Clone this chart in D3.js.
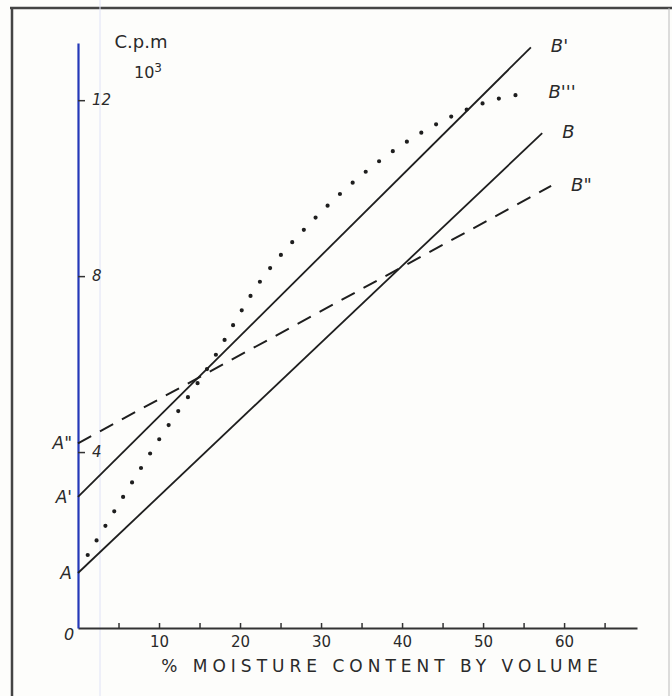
<!DOCTYPE html>
<html>
<head>
<meta charset="utf-8">
<script src="https://cdn.jsdelivr.net/npm/d3@7"></script>
<style>
  body { margin: 0; background: #fdfdfb; }
  svg { display: block; }
  text { font-family: "DejaVu Sans", sans-serif; fill: #2a2a2a; }
</style>
</head>
<body>
<div id="chart"></div>
<script>
// values (x = % moisture, y = c.p.m x 10^3)
var xTicks = [5, 10, 15, 20, 25, 30, 35, 40, 45, 50, 55, 60, 65];
var yTicks = [4, 8, 12];

var lineAB   = [[0, 1.25], [57.3, 11.25]];   // A  -> B
var lineA1B1 = [[0, 2.98], [55.9, 13.2]];    // A' -> B'
var lineA2B2 = [[0, 4.2], [58.4, 10.05]];    // A'' -> B''
var curveB3  = [[1.2, 1.66], [5.4, 2.93], [10.2, 4.34], [16.0, 5.91], [22.6, 7.91],
                [28.8, 9.23], [35.9, 10.43], [43.8, 11.41], [51.2, 12.0], [55.6, 12.16]];

var startLabels = ["A", "A'", "A\""];
var endLabels = ["B", "B'", "B\"", "B'''"];

var W = 672, H = 696;

var svg = d3.select("#chart")
    .append("svg")
    .attr("width", W)
    .attr("height", H);

// paper frame
svg.append("line").attr("x1", 10).attr("x2", W).attr("y1", 8).attr("y2", 8)
    .attr("stroke", "#444").attr("stroke-width", 2.5);
svg.append("line").attr("x1", 12).attr("x2", 12).attr("y1", 8).attr("y2", H)
    .attr("stroke", "#444").attr("stroke-width", 2.5);
svg.append("line").attr("x1", 669).attr("x2", 669).attr("y1", 8).attr("y2", H)
    .attr("stroke", "#bbb").attr("stroke-width", 1);
// faint margin line of the paper
svg.append("line").attr("x1", 100).attr("x2", 100).attr("y1", 0).attr("y2", H)
    .attr("stroke", "#dfe2f6").attr("stroke-width", 1);

var x = d3.scaleLinear().domain([0, 69]).range([78, 637]);
var y = d3.scaleLinear().domain([0, 13.3]).range([628, 43]);

// x axis, ticks pointing up
var gx = svg.append("g")
    .attr("transform", "translate(0," + y(0) + ")")
    .call(d3.axisBottom(x).tickValues(xTicks).tickSizeInner(-5).tickSizeOuter(0).tickPadding(8)
        .tickFormat(function(d) { return d % 10 === 0 ? d : ""; }));
gx.select(".domain").attr("stroke", "#333").attr("stroke-width", 2);
gx.selectAll(".tick line").attr("stroke", "#333").attr("stroke-width", 1.5);
gx.selectAll(".tick text").style("font-size", "15px").attr("fill", "#2a2a2a");

// y axis (blue)
var gy = svg.append("g")
    .attr("transform", "translate(" + x(0) + ",0)")
    .call(d3.axisRight(y).tickValues(yTicks).tickSizeInner(7).tickSizeOuter(0).tickPadding(7));
gy.select(".domain").attr("stroke", "#2438b8").attr("stroke-width", 2.2);
gy.selectAll(".tick line").attr("stroke", "#333").attr("stroke-width", 1.5);
gy.selectAll(".tick text").style("font-size", "15px").style("font-style", "italic").attr("fill", "#2a2a2a");

svg.append("text").attr("x", x(0) - 14).attr("y", y(0) + 12)
    .style("font-size", "16px").style("font-style", "italic").text("0");

// y axis title
svg.append("text").attr("x", 141).attr("y", 48).attr("text-anchor", "middle")
    .style("font-size", "18px").text("C.p.m");
var t10 = svg.append("text").attr("x", 148).attr("y", 78).attr("text-anchor", "middle")
    .style("font-size", "16px");
t10.append("tspan").text("10");
t10.append("tspan").attr("dy", -6).style("font-size", "12px").text("3");

// x axis title
svg.append("text").attr("x", 382).attr("y", 672).attr("text-anchor", "middle")
    .style("font-size", "17px").style("letter-spacing", "5px")
    .text("% MOISTURE CONTENT BY VOLUME");

var line = d3.line().x(function(d) { return x(d[0]); }).y(function(d) { return y(d[1]); });

svg.append("path").datum(lineAB).attr("d", line)
    .attr("fill", "none").attr("stroke", "#1e1e1e").attr("stroke-width", 1.8);
svg.append("path").datum(lineA1B1).attr("d", line)
    .attr("fill", "none").attr("stroke", "#1e1e1e").attr("stroke-width", 1.8);
svg.append("path").datum(lineA2B2).attr("d", line)
    .attr("fill", "none").attr("stroke", "#1e1e1e").attr("stroke-width", 2)
    .attr("stroke-dasharray", "15,10");
svg.append("path").datum(curveB3).attr("d", line.curve(d3.curveMonotoneX))
    .attr("fill", "none").attr("stroke", "#1e1e1e").attr("stroke-width", 4.2)
    .attr("stroke-linecap", "round").attr("stroke-dasharray", "0,17");

// start labels on the y axis
var starts = [lineAB[0], lineA1B1[0], lineA2B2[0]];
svg.selectAll(".start-label")
    .data(starts)
    .enter().append("text")
    .attr("class", "start-label")
    .attr("x", x(0) - 6)
    .attr("y", function(d) { return y(d[1]) + 6; })
    .attr("text-anchor", "end")
    .style("font-size", "17px").style("font-style", "italic")
    .text(function(d, i) { return startLabels[i]; });

// end labels
var ends = [lineAB[1], lineA1B1[1], lineA2B2[1], curveB3[curveB3.length - 1]];
svg.selectAll(".end-label")
    .data(ends)
    .enter().append("text")
    .attr("class", "end-label")
    .attr("x", function(d) { return x(d[0]) + 20; })
    .attr("y", function(d) { return y(d[1]) + 5; })
    .style("font-size", "18px").style("font-style", "italic")
    .text(function(d, i) { return endLabels[i]; });
</script>
</body>
</html>
